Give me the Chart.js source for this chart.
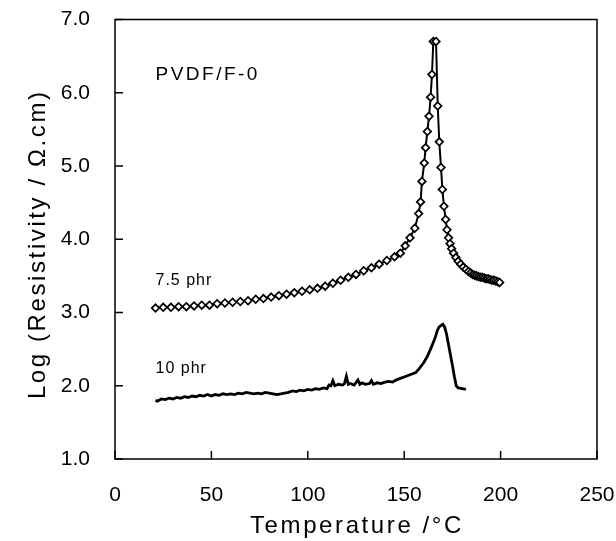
<!DOCTYPE html>
<html>
<head>
<meta charset="utf-8">
<script src="https://cdn.jsdelivr.net/npm/chart.js@4.4.1/dist/chart.umd.min.js"></script>
<style>
  html, body { margin: 0; padding: 0; background: #fff; }
  #wrap { width: 616px; height: 541px; }
</style>
</head>
<body>
<div id="wrap"><canvas id="resChart" width="616" height="541"></canvas></div>
<script>
// 7.5 phr (diamond markers)
const temp75 = [21, 25, 29, 33, 37, 41, 45, 49, 53, 57, 61, 65, 69, 73, 77, 81, 85, 89, 93, 97,
    101, 105, 109, 113, 117, 121, 125, 129, 133, 137, 141, 145, 148, 150.5, 153, 155.5, 157.5, 158.5,
    159.2, 160.4, 161.1, 162, 162.9, 163.7, 164.4, 165.1, 166.5, 167.4, 168.2, 169.1, 169.8, 170.6,
    171.5, 172.2, 173, 173.8, 174.6, 175.6, 176.8, 178, 179.3, 180.6, 182, 183.3, 184.5, 185.5, 186.5,
    187.5, 188.5, 189.5, 190.5, 191.5, 192.5, 193.5, 194.5, 195.5, 196.5, 197.5, 198.5, 199.5];
const logR75 = [3.06, 3.07, 3.07, 3.08, 3.08, 3.09, 3.10, 3.10, 3.12, 3.13, 3.14, 3.15, 3.16, 3.18, 3.19, 3.21, 3.23, 3.25, 3.27, 3.29,
    3.31, 3.33, 3.36, 3.40, 3.44, 3.48, 3.52, 3.57, 3.61, 3.66, 3.71, 3.76, 3.81, 3.91, 4.02, 4.15, 4.35, 4.51,
    4.79, 5.04, 5.25, 5.47, 5.68, 5.94, 6.25, 6.70, 6.70, 5.82, 5.33, 4.98, 4.68, 4.45,
    4.27, 4.13, 4.02, 3.94, 3.87, 3.81, 3.75, 3.70, 3.66, 3.62, 3.59, 3.56, 3.54, 3.52, 3.51,
    3.50, 3.49, 3.48, 3.48, 3.47, 3.46, 3.46, 3.45, 3.44, 3.44, 3.43, 3.42, 3.41];

// 10 phr (plain noisy line)
const temp10 = [21, 22, 24, 26, 28, 30, 32, 34, 36, 38, 40, 42, 44, 46, 48, 50, 52, 54, 56, 58,
    60, 62, 64, 66, 68, 70, 72, 74, 76, 78, 80, 82, 84, 86, 88, 90, 92, 94, 96, 98,
    100, 102, 104, 106, 108, 110, 111, 112, 113, 114, 116, 118, 119, 120, 121, 122, 124, 126, 127, 128,
    130, 132, 133, 134, 136, 138, 140, 142, 144, 146, 148, 150, 152, 154, 156, 158, 160, 162, 164, 166,
    167, 168, 169, 170, 171, 172, 173, 174, 175, 176, 177, 178, 180, 182];
const logR10 = [1.80, 1.79, 1.82, 1.81, 1.83, 1.82, 1.84, 1.83, 1.85, 1.84, 1.86, 1.85, 1.87, 1.86, 1.88, 1.86, 1.88, 1.87, 1.89, 1.88,
    1.89, 1.88, 1.90, 1.89, 1.91, 1.90, 1.89, 1.90, 1.89, 1.91, 1.90, 1.89, 1.88, 1.89, 1.90, 1.91, 1.93, 1.92, 1.94, 1.93,
    1.95, 1.94, 1.96, 1.95, 1.97, 1.96, 2.01, 2.00, 2.07, 2.00, 2.02, 2.01, 2.03, 2.13, 2.02, 2.03, 2.01, 2.08, 2.02, 2.04,
    2.02, 2.03, 2.07, 2.02, 2.04, 2.03, 2.05, 2.06, 2.05, 2.08, 2.10, 2.12, 2.14, 2.16, 2.18, 2.24, 2.31, 2.40, 2.52, 2.65,
    2.74, 2.80, 2.82, 2.84, 2.80, 2.70, 2.56, 2.42, 2.28, 2.13, 2.00, 1.97, 1.96, 1.95];

const xTicks = [0, 50, 100, 150, 200, 250];
const yTicks = [1, 2, 3, 4, 5, 6, 7];

const FONT = "'Liberation Sans', Arial, sans-serif";
const xTitle = 'Temperature /°C';
const yTitle = 'Log (Resistivity / Ω.cm)';

// 図中のテキスト（データ座標、ベースライン位置）
const notes = [
    { text: 'PVDF/F-0', x: 21, y: 6.17, size: 19, spacing: 2.5 },
    { text: '7.5 phr', x: 21, y: 3.375, size: 16, spacing: 1 },
    { text: '10 phr', x: 21, y: 2.175, size: 16, spacing: 1 }
];

function toPoints(xs, ys) {
    return xs.map((x, i) => ({ x: x, y: ys[i] }));
}

// 枠線・内向き目盛り・軸タイトル・注記
const framePlugin = {
    id: 'frame',
    afterDraw(chart) {
        const { ctx, chartArea: a, scales } = chart;
        ctx.save();
        ctx.strokeStyle = '#000';
        ctx.lineWidth = 1.5;
        ctx.strokeRect(a.left, a.top, a.right - a.left, a.bottom - a.top);
        ctx.beginPath();
        xTicks.forEach(v => {
            const px = scales.x.getPixelForValue(v);
            ctx.moveTo(px, a.bottom);
            ctx.lineTo(px, a.bottom - 8);
        });
        yTicks.forEach(v => {
            const py = scales.y.getPixelForValue(v);
            ctx.moveTo(a.left, py);
            ctx.lineTo(a.left + 8, py);
        });
        ctx.stroke();

        ctx.fillStyle = '#000';
        ctx.textBaseline = 'alphabetic';
        ctx.textAlign = 'left';
        notes.forEach(n => {
            ctx.letterSpacing = n.spacing + 'px';
            ctx.font = n.size + 'px ' + FONT;
            ctx.fillText(n.text, scales.x.getPixelForValue(n.x), scales.y.getPixelForValue(n.y));
        });

        // 軸タイトル
        ctx.letterSpacing = '2.6px';
        ctx.font = '24px ' + FONT;
        ctx.textAlign = 'center';
        ctx.fillText(xTitle, (a.left + a.right) / 2 + 1, 533);
        ctx.save();
        ctx.translate(45, (a.top + a.bottom) / 2 + 5);
        ctx.rotate(-Math.PI / 2);
        ctx.fillText(yTitle, 0, 0);
        ctx.restore();
        ctx.restore();
    }
};

const ctx = document.getElementById('resChart').getContext('2d');
new Chart(ctx, {
    type: 'scatter',
    data: {
        datasets: [
            {
                label: '7.5 phr',
                data: toPoints(temp75, logR75),
                showLine: true,
                borderColor: '#000',
                borderWidth: 2,
                pointStyle: 'rectRot',
                pointRadius: 3.8,
                pointBackgroundColor: '#fff',
                pointBorderColor: '#000',
                pointBorderWidth: 1.7
            },
            {
                label: '10 phr',
                data: toPoints(temp10, logR10),
                showLine: true,
                borderColor: '#000',
                borderWidth: 2.8,
                pointRadius: 0
            }
        ]
    },
    options: {
        responsive: false,
        animation: false,
        layout: { padding: { top: 19.5, right: 19, left: 0, bottom: 0 } },
        plugins: {
            legend: { display: false },
            tooltip: { enabled: false }
        },
        scales: {
            x: {
                type: 'linear',
                min: 0,
                max: 250,
                grid: { display: false, drawTicks: false },
                border: { display: false },
                ticks: {
                    stepSize: 50,
                    color: '#000',
                    padding: 24,
                    font: { family: FONT, size: 21 }
                },
                afterFit(scale) {
                    scale.height = 82;
                    scale.paddingLeft = 0;
                    scale.paddingRight = 0;
                }
            },
            y: {
                type: 'linear',
                min: 1,
                max: 7,
                grid: { display: false, drawTicks: false },
                border: { display: false },
                ticks: {
                    stepSize: 1,
                    color: '#000',
                    padding: 25,
                    font: { family: FONT, size: 21 },
                    callback: v => v.toFixed(1)
                },
                afterFit(scale) {
                    scale.width = 115;
                    scale.paddingTop = 0;
                    scale.paddingBottom = 0;
                }
            }
        }
    },
    plugins: [framePlugin]
});
</script>
</body>
</html>
